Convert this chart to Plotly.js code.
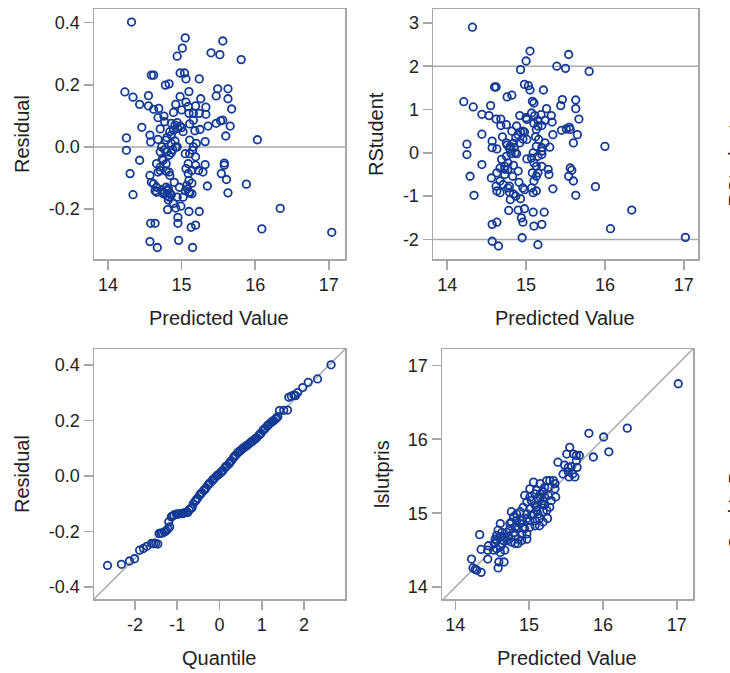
<!DOCTYPE html>
<html>
<head>
<meta charset="utf-8">
<script src="https://cdn.plot.ly/plotly-3.0.1.min.js"></script>
<style>html,body{margin:0;padding:0;background:#fff;}#chart{width:730px;height:673px;}</style>
</head>
<body>
<div id="chart"></div>
<script>
// ---- Panel 1: Residual vs Predicted Value ----
const pred1 = [14.32,15.05,15.01,14.94,15.56,15.40,15.52,15.81,14.59,14.62,14.98,15.04,15.06,14.78,14.83,15.24,14.23,14.34,14.55,14.43,14.55,14.62,14.69,14.68,14.76,15.10,15.26,15.49,15.63,15.47,15.63,15.68,14.92,15.06,14.89,15.00,15.10,15.19,15.33,15.33,15.24,15.16,14.46,14.71,14.94,14.98,14.91,15.00,15.11,15.18,15.25,15.36,15.47,15.53,15.56,15.66,15.60,16.03,14.25,14.25,14.57,14.58,14.68,14.73,14.80,14.86,14.77,14.89,14.86,15.20,15.32,15.15,15.11,15.19,15.05,14.43,14.30,14.34,14.66,14.68,14.74,14.79,14.83,14.57,14.71,14.62,14.64,14.66,14.79,14.81,14.84,14.77,14.90,14.97,14.94,14.82,15.09,15.10,15.07,15.05,15.11,15.08,15.14,15.19,15.23,15.29,15.32,15.58,15.58,15.54,15.61,15.35,15.63,15.88,14.81,14.92,14.99,15.10,15.24,14.95,14.95,14.58,14.64,15.13,15.19,14.57,14.67,14.96,15.15,16.09,16.34,17.04,14.83,14.92,14.88,14.71,14.82,14.86,14.74,14.80,14.75,14.83,15.10,15.14,
  14.86,14.95,15.02,14.84,14.79,14.91,14.94,15.11,15.16,14.80,14.86,14.75,14.71,14.79,14.84,14.59,14.66,14.73,15.09,15.06,15.14,15.02,14.89,14.77,15.09,15.16,14.98];
const resid1 = [0.402,0.351,0.318,0.292,0.341,0.303,0.297,0.281,0.231,0.231,0.238,0.238,0.219,0.199,0.203,0.219,0.177,0.160,0.165,0.137,0.132,0.121,0.124,0.094,0.099,0.178,0.155,0.187,0.187,0.164,0.155,0.122,0.137,0.144,0.111,0.119,0.108,0.132,0.128,0.105,0.108,0.108,0.063,0.058,0.078,0.067,0.070,0.062,0.074,0.052,0.056,0.067,0.076,0.084,0.086,0.067,0.035,0.023,0.029,-0.011,0.038,0.016,0.024,0.000,0.030,0.011,-0.009,0.054,0.038,0.011,0.017,-0.011,-0.022,-0.032,-0.022,-0.043,-0.086,-0.154,-0.054,-0.081,-0.038,-0.054,-0.081,-0.092,-0.076,-0.119,-0.141,-0.146,-0.130,-0.141,-0.149,-0.149,-0.114,-0.130,-0.162,-0.171,-0.086,-0.108,-0.124,-0.141,-0.149,-0.135,-0.076,-0.059,-0.076,-0.081,-0.057,-0.052,-0.059,-0.086,-0.105,-0.126,-0.148,-0.120,-0.202,-0.197,-0.191,-0.208,-0.208,-0.227,-0.246,-0.246,-0.246,-0.259,-0.252,-0.305,-0.324,-0.301,-0.324,-0.264,-0.198,-0.275,-0.027,0.000,-0.009,-0.016,-0.135,-0.155,-0.146,-0.157,-0.151,-0.162,-0.146,-0.151,
  0.076,0.059,0.049,0.049,0.022,0.019,0.000,0.022,0.000,-0.016,-0.019,-0.043,-0.065,-0.078,-0.092,-0.114,-0.130,-0.138,-0.054,-0.070,-0.117,-0.162,-0.182,0.081,0.130,0.086,0.162];

// ---- Panel 2: RStudent vs Predicted Value ----
const pred2 = [14.32,15.05,15.00,14.93,15.54,15.39,15.50,15.80,14.60,14.62,14.98,15.03,15.05,15.22,14.76,14.82,14.21,14.33,14.55,14.44,14.53,14.62,14.68,14.68,14.75,15.08,15.10,15.46,15.44,15.63,15.63,15.67,15.26,14.92,15.00,15.07,15.11,15.15,15.19,15.24,15.32,15.33,15.15,15.10,14.44,14.57,14.57,14.70,14.76,14.79,14.84,14.87,14.90,14.93,14.96,14.98,15.01,15.12,15.16,15.20,15.13,15.30,15.34,15.45,15.51,15.55,15.56,15.65,15.60,16.00,14.25,14.25,14.44,14.29,14.34,14.56,14.63,14.67,14.73,14.69,14.75,14.81,14.85,14.88,14.62,14.63,14.67,14.77,14.79,14.84,14.87,14.80,14.73,14.77,14.83,14.90,14.91,14.96,14.93,14.98,15.01,15.07,15.10,15.13,15.15,15.20,15.20,15.08,15.13,15.10,15.07,15.13,15.09,15.28,15.29,15.34,15.56,15.58,15.54,15.60,15.63,15.88,14.78,14.90,14.98,15.09,15.23,14.94,14.96,14.57,14.63,15.10,15.20,14.57,14.65,14.95,15.15,16.07,16.34,17.02,
  14.75,14.80,14.86,14.92,14.96,14.77,14.73,14.84,14.67,14.71,14.79,15.15,15.20,15.09,15.24,15.01,15.13,15.20,14.88,14.82,14.63];
const rstud2 = [2.90,2.35,2.12,1.92,2.27,2.00,1.95,1.88,1.52,1.52,1.58,1.55,1.45,1.45,1.29,1.33,1.18,1.06,1.09,0.89,0.86,0.78,0.78,0.63,0.65,1.19,1.15,1.23,1.09,1.22,1.02,0.78,1.02,0.86,0.81,0.92,0.86,0.75,0.88,0.75,0.86,0.71,0.62,0.68,0.43,0.27,0.12,0.37,0.18,0.10,0.22,0.35,0.42,0.48,0.50,0.48,0.31,0.37,0.31,0.12,0.15,0.13,0.42,0.52,0.55,0.59,0.54,0.42,0.23,0.15,0.20,-0.04,-0.27,-0.54,-0.98,-0.58,-0.46,-0.35,-0.31,-0.15,-0.08,-0.02,0.12,-0.02,-0.77,-0.88,-0.92,-0.81,-0.91,-0.95,-1.00,-1.08,-0.50,-0.38,-0.54,-0.42,-0.68,-0.81,-1.06,-0.85,-0.14,-0.12,-0.23,-0.31,-0.08,0.04,-0.04,-0.46,-0.54,-0.65,-0.81,-0.88,-0.92,-0.38,-0.50,-0.83,-0.35,-0.40,-0.54,-0.65,-0.98,-0.78,-1.33,-1.32,-1.29,-1.37,-1.37,-1.50,-1.60,-1.65,-1.60,-1.69,-1.65,-2.04,-2.15,-1.96,-2.12,-1.75,-1.32,-1.95,
  0.23,0.15,0.00,0.23,0.32,-0.23,-0.38,-0.29,-0.65,-0.73,-0.77,-0.46,-0.31,0.00,0.23,0.77,0.54,0.63,0.62,0.50,0.09];

// ---- Panel 3: Residual vs normal Quantile ----
const quant3 = [-2.65,-2.32,-2.13,-2.01,-1.89,-1.80,-1.72,-1.61,-1.51,-1.46,-1.43,-1.35,-1.26,-1.22,-1.18,-1.20,-1.14,-1.08,-1.02,-0.96,-0.90,-0.84,-0.78,-0.72,-0.67,-0.62,-0.57,-0.52,-0.47,-0.42,-0.37,-0.32,-0.27,-0.22,-0.17,-0.12,-0.07,-0.02,0.03,0.08,0.13,0.18,0.23,0.28,0.33,0.38,0.43,0.48,0.53,0.58,0.63,0.68,0.73,0.78,0.83,0.88,0.93,0.98,1.03,1.08,1.13,1.18,1.23,1.28,1.33,1.38,1.42,1.61,1.64,1.70,1.76,1.85,1.97,2.10,2.32,2.64,
  -1.56,-1.39,-1.30,-1.11,-0.99,-0.87,-0.75,-0.65,-0.55,-0.45,-0.35,-0.25,-0.15,-0.05,0.05,0.15,0.25,0.35,0.45,0.55,0.65,0.75,0.85,0.95,1.05,1.15,1.25,1.35,1.52,1.80];
const resid3 = [-0.322,-0.318,-0.306,-0.298,-0.267,-0.261,-0.253,-0.243,-0.243,-0.245,-0.207,-0.205,-0.197,-0.190,-0.183,-0.165,-0.147,-0.140,-0.137,-0.136,-0.135,-0.133,-0.130,-0.122,-0.117,-0.100,-0.090,-0.080,-0.069,-0.060,-0.052,-0.043,-0.032,-0.024,-0.016,-0.008,0.000,0.006,0.012,0.020,0.030,0.038,0.045,0.055,0.065,0.075,0.083,0.090,0.096,0.103,0.108,0.114,0.120,0.126,0.132,0.138,0.146,0.154,0.164,0.172,0.180,0.188,0.194,0.200,0.206,0.214,0.236,0.238,0.284,0.288,0.292,0.301,0.319,0.338,0.350,0.401,
  -0.243,-0.206,-0.201,-0.144,-0.137,-0.135,-0.131,-0.113,-0.086,-0.065,-0.048,-0.028,-0.012,0.003,0.016,0.034,0.050,0.070,0.087,0.100,0.111,0.123,0.135,0.150,0.168,0.184,0.197,0.210,0.237,0.290];
const qqLineX = [-3.0, 3.0];
const qqLineY = [-0.448, 0.462];

// ---- Panel 4: lslutpris vs Predicted Value ----
const pred4 = [17.02,16.33,16.01,15.81,16.08,15.87,15.55,15.51,15.60,15.64,15.68,15.39,15.48,15.53,15.57,15.64,15.65,15.46,15.54,15.59,15.62,15.53,15.06,15.24,15.28,15.33,15.35,15.01,14.94,15.10,15.15,15.19,15.21,15.26,15.36,15.03,15.08,15.10,15.17,15.01,14.97,15.06,15.12,15.19,15.24,15.08,15.14,15.01,15.25,15.19,15.14,14.92,14.88,14.79,14.76,14.83,14.88,14.92,14.81,14.74,14.70,14.67,14.63,14.58,14.61,14.56,14.56,14.63,14.70,14.76,14.81,14.85,14.90,14.97,14.94,14.33,14.35,14.44,14.45,14.53,14.56,14.61,14.44,14.59,14.66,14.58,14.22,14.24,14.27,14.29,14.35,14.97,15.15,15.21,15.28,15.30,15.35,14.79,14.85,
  15.01,15.08,15.12,15.19,15.26,15.21,15.15,15.10,15.03,14.97,14.90,14.83,14.76,14.74,14.81,14.72,14.65,14.61,14.85,14.90,14.97,15.01,15.08,14.61,14.54,14.52,14.67];
const obs4 = [16.75,16.15,16.03,16.08,15.83,15.76,15.89,15.80,15.80,15.78,15.78,15.69,15.65,15.62,15.63,15.71,15.62,15.53,15.49,15.53,15.49,15.56,15.42,15.44,15.44,15.44,15.40,15.33,15.24,15.31,15.26,15.29,15.22,15.35,15.22,15.17,15.11,15.08,15.13,15.06,14.99,14.99,14.99,15.02,15.04,14.90,14.93,14.90,14.93,14.88,14.83,15.08,15.02,14.95,14.88,14.90,14.86,14.81,14.81,14.79,14.74,14.68,14.74,14.77,14.86,14.70,14.63,14.59,14.63,14.61,14.59,14.65,14.72,14.65,14.79,14.71,14.51,14.50,14.56,14.59,14.52,14.47,14.38,14.34,14.34,14.26,14.38,14.26,14.24,14.23,14.20,15.15,15.22,15.11,15.08,15.17,15.33,14.74,14.79,
  15.22,15.26,15.20,15.17,15.24,15.35,15.40,15.04,14.97,14.93,14.90,14.99,15.02,14.86,14.70,14.68,14.63,14.68,14.59,14.63,14.72,14.81,14.83,14.54,14.65,14.50,14.50];
const diagLine = [13.5, 17.5];

// ---- Tick labels ----
const ticksPred = [14, 15, 16, 17];
const ticksPredText = ['14', '15', '16', '17'];
const ticksResid = [-0.4, -0.2, 0.0, 0.2, 0.4];
const ticksResidText = ['-0.4', '-0.2', '0.0', '0.2', '0.4'];
const ticksRstud = [-2, -1, 0, 1, 2, 3];
const ticksRstudText = ['-2', '-1', '0', '1', '2', '3'];
const ticksQuant = [-2, -1, 0, 1, 2];
const ticksQuantText = ['-2', '-1', '0', '1', '2'];
const refLinesRstud = [-2, 2];

// ---- Styling / layout ----
const W = 730, H = 673;
const FONT = 'Liberation Sans, Arial, sans-serif';
const frameCol = '#a4a7ab';
const refCol = '#a9abae';
const markCol = '#143a96';
function dx(a, b) { return [a / W, b / W]; }
function dy(top, bottom) { return [1 - bottom / H, 1 - top / H]; }
function axis(extra) {
  return Object.assign({
    showline: true, mirror: true, linecolor: frameCol, linewidth: 1.5,
    ticks: 'outside', ticklen: 9, tickwidth: 1.5, tickcolor: frameCol,
    showgrid: false, zeroline: false, tickmode: 'array',
    tickfont: { family: FONT, size: 18, color: '#222' }, fixedrange: true
  }, extra);
}
const marker = { symbol: 'circle-open', size: 7.5, color: markCol, line: { width: 1.8, color: markCol } };
const lineStyle = { color: refCol, width: 1.5 };

const traces = [
  { x: [13.5, 17.5], y: [0, 0], mode: 'lines', line: lineStyle, xaxis: 'x', yaxis: 'y', hoverinfo: 'skip' },
  { x: pred1, y: resid1, mode: 'markers', marker: marker, xaxis: 'x', yaxis: 'y' },
  { x: [13.5, 17.5], y: [refLinesRstud[0], refLinesRstud[0]], mode: 'lines', line: lineStyle, xaxis: 'x2', yaxis: 'y2', hoverinfo: 'skip' },
  { x: [13.5, 17.5], y: [refLinesRstud[1], refLinesRstud[1]], mode: 'lines', line: lineStyle, xaxis: 'x2', yaxis: 'y2', hoverinfo: 'skip' },
  { x: pred2, y: rstud2, mode: 'markers', marker: marker, xaxis: 'x2', yaxis: 'y2' },
  { x: qqLineX, y: qqLineY, mode: 'lines', line: lineStyle, xaxis: 'x3', yaxis: 'y3', hoverinfo: 'skip' },
  { x: quant3, y: resid3, mode: 'markers', marker: marker, xaxis: 'x3', yaxis: 'y3' },
  { x: diagLine, y: diagLine, mode: 'lines', line: lineStyle, xaxis: 'x4', yaxis: 'y4', hoverinfo: 'skip' },
  { x: pred4, y: obs4, mode: 'markers', marker: marker, xaxis: 'x4', yaxis: 'y4' }
];

function ann(text, xpx, ypx, angle) {
  return { text: text, x: xpx / W, y: 1 - ypx / H, xref: 'paper', yref: 'paper',
    showarrow: false, textangle: angle || 0, xanchor: 'center', yanchor: 'middle',
    font: { family: FONT, size: 20, color: '#222' } };
}

const layout = {
  width: W, height: H, showlegend: false,
  margin: { l: 0, r: 0, t: 0, b: 0 },
  paper_bgcolor: '#fff', plot_bgcolor: '#fff',
  xaxis: axis({ domain: dx(94, 345), anchor: 'y', range: [13.81, 17.22], tickvals: ticksPred, ticktext: ticksPredText }),
  yaxis: axis({ domain: dy(9, 259), anchor: 'x', range: [-0.361, 0.444], tickvals: ticksResid, ticktext: ticksResidText }),
  xaxis2: axis({ domain: dx(433, 698), anchor: 'y2', range: [13.82, 17.18], tickvals: ticksPred, ticktext: ticksPredText }),
  yaxis2: axis({ domain: dy(9, 259), anchor: 'x2', range: [-2.45, 3.32], tickvals: ticksRstud, ticktext: ticksRstudText }),
  xaxis3: axis({ domain: dx(94, 345), anchor: 'y3', range: [-2.97, 2.97], tickvals: ticksQuant, ticktext: ticksQuantText }),
  yaxis3: axis({ domain: dy(349, 599), anchor: 'x3', range: [-0.443, 0.458], tickvals: ticksResid, ticktext: ticksResidText }),
  xaxis4: axis({ domain: dx(442, 693), anchor: 'y4', range: [13.82, 17.22], tickvals: ticksPred, ticktext: ticksPredText }),
  yaxis4: axis({ domain: dy(349, 599), anchor: 'x4', range: [13.84, 17.22], tickvals: ticksPred, ticktext: ticksPredText }),
  annotations: [
    ann('Residual', 22, 134, -90),
    ann('Predicted Value', 219, 318),
    ann('RStudent', 376, 134, -90),
    ann('Predicted Value', 565, 318),
    ann('Residual', 22, 474, -90),
    ann('Quantile', 219, 658),
    ann('lslutpris', 382, 474, -90),
    ann('Predicted Value', 567, 658),
    ann('RStudent', 736, 165, -90),
    ann("Cook's D", 736, 510, -90)
  ]
};

Plotly.newPlot('chart', traces, layout, { displayModeBar: false, staticPlot: true });
</script>
</body>
</html>
